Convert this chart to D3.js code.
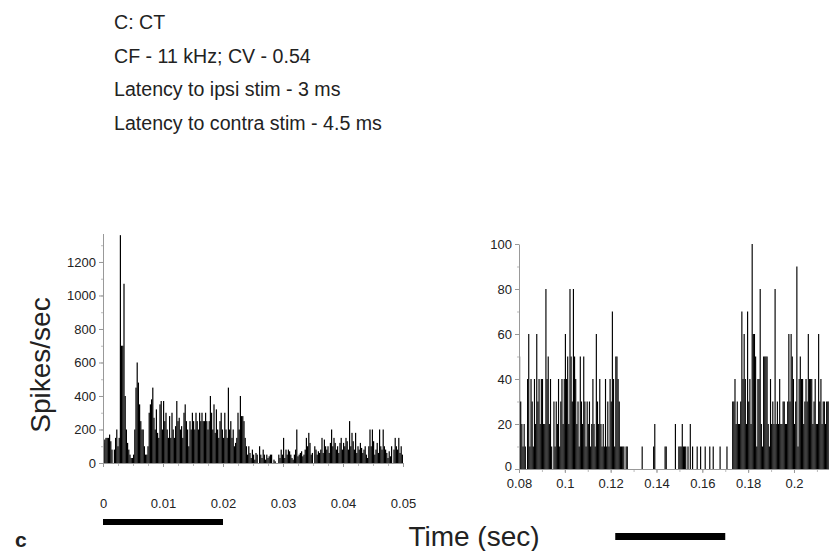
<!DOCTYPE html>
<html>
<head>
<meta charset="utf-8">
<script src="https://cdn.jsdelivr.net/npm/d3@7"></script>
<style>
  body { margin: 0; background: #fff; }
  svg { display: block; font-family: "Liberation Sans", Arial, sans-serif; }
</style>
</head>
<body>
<svg id="chart" width="829" height="551"></svg>
<script>
// header text
const infoLines = [
  "C: CT",
  "CF - 11 kHz; CV - 0.54",
  "Latency to ipsi stim - 3 ms",
  "Latency to contra stim - 4.5 ms"
];

// left PSTH: 0 - 0.05 s, bins of 0.2 ms (spikes/sec)
const leftBin = 0.0002;
const leftRates = [
  120,140,150,150,150,170,130,80,0,80,
  150,200,100,150,1360,700,700,1070,400,200,
  120,80,50,30,30,50,200,450,600,480,
  350,250,200,200,100,50,50,100,300,350,
  380,450,270,200,320,180,150,350,370,200,
  370,250,300,200,150,280,150,300,200,150,
  220,370,250,270,200,220,150,300,350,250,
  200,100,250,200,300,250,200,300,250,200,
  300,250,300,250,250,300,250,200,250,400,
  300,200,350,180,320,200,150,250,300,200,
  150,300,200,150,450,200,250,150,200,100,
  120,150,300,200,400,280,280,250,150,100,
  50,100,60,30,80,50,20,60,50,0,
  100,50,30,80,50,20,50,30,40,50,
  50,0,20,10,0,0,50,30,80,50,
  150,30,80,50,80,70,50,30,20,50,
  80,200,40,50,60,70,40,50,80,150,
  100,180,120,50,60,0,100,80,50,70,
  60,80,150,60,140,100,80,100,60,120,
  200,100,150,120,80,100,60,120,150,80,
  120,100,150,130,80,250,100,180,130,80,
  180,60,100,80,120,90,60,80,100,50,
  30,100,200,100,200,130,50,80,120,60,
  200,100,80,200,100,80,60,30,70,40,
  100,0,80,150,100,80,150,60,100,50
];

// right PSTH: from 0.08 s, bins of 0.5 ms (spikes/sec)
const rightStart = 0.08;
const rightBin = 0.0005;
const rightRates = [
  50,30,20,10,20,10,0,40,60,10,
  40,30,10,40,20,60,30,40,20,40,
  40,20,20,80,40,50,20,40,10,0,
  30,10,30,20,40,10,30,40,20,40,
  60,40,50,20,80,50,30,80,50,40,
  20,30,10,50,30,20,50,30,10,30,
  20,30,10,20,40,20,10,60,30,20,
  40,20,10,20,10,40,10,30,10,40,
  30,70,40,10,50,50,40,30,10,10,
  10,10,0,10,10,0,0,0,0,0,
  0,0,0,0,0,0,0,10,0,0,
  0,0,0,0,0,0,0,10,20,0,
  0,0,0,0,0,0,0,10,10,0,
  0,0,0,0,0,0,20,0,0,10,
  10,10,20,10,10,10,0,10,0,20,
  0,10,0,0,0,10,0,0,10,0,
  0,0,10,0,0,0,10,0,0,10,
  0,0,0,0,0,10,0,0,0,0,
  0,10,0,0,0,0,30,30,40,20,
  30,20,20,30,70,40,60,40,20,70,
  30,40,20,100,60,60,50,10,40,40,
  80,20,10,50,50,50,50,20,10,40,
  20,30,20,80,20,30,20,40,20,20,
  30,30,20,20,30,60,30,60,50,40,
  20,30,90,10,40,50,40,40,20,30,
  40,30,60,40,40,40,20,30,40,20,
  20,60,30,40,20,30,30,20,30,30,30
];

// ticks
const leftTicksX = [0, 0.01, 0.02, 0.03, 0.04, 0.05];
const leftTicksY = [0, 200, 400, 600, 800, 1000, 1200];
const rightTicksX = [0.08, 0.1, 0.12, 0.14, 0.16, 0.18, 0.2];
const rightTicksY = [0, 20, 40, 60, 80, 100];

// stimulus periods (sec)
const leftStim = [0, 0.02];
const rightStim = [0.122, 0.170];

const svg = d3.select("#chart");
const textCol = "#222";
const axisCol = "#999";

// header
svg.append("g").selectAll("text")
  .data(infoLines).enter()
  .append("text")
  .attr("x", 114)
  .attr("y", (d, i) => 29 + i * 33.5)
  .attr("font-size", 19.6)
  .attr("fill", textCol)
  .text(d => d);

// ---- left panel ----
const xL = d3.scaleLinear().domain([0, 0.05]).range([103, 403]);
const yL = d3.scaleLinear().domain([0, 1370]).range([463, 233.5]);

svg.append("g")
  .selectAll("rect")
  .data(leftRates).enter()
  .append("rect")
  .attr("x", (d, i) => xL(i * leftBin))
  .attr("width", xL(leftBin) - xL(0))
  .attr("y", d => yL(d))
  .attr("height", d => yL(0) - yL(d))
  .attr("fill", "#000");

function styleAxis(g) {
  g.select(".domain").attr("stroke", axisCol);
  g.selectAll(".tick line").attr("stroke", axisCol);
  g.selectAll(".tick text").attr("fill", textCol).attr("font-size", 13)
    .attr("font-family", "Liberation Sans, Arial, sans-serif");
}

// y axis left
svg.append("g")
  .attr("transform", "translate(103,0)")
  .call(d3.axisLeft(yL).tickValues(d3.range(0, 1301, 100)).tickSize(2).tickFormat(""))
  .call(g => { g.select(".domain").remove(); g.selectAll(".tick line").attr("stroke", "#bbb"); });
svg.append("g")
  .attr("transform", "translate(103,0)")
  .call(d3.axisLeft(yL).tickValues(leftTicksY).tickSize(4).tickPadding(3).tickSizeOuter(0)
    .tickFormat(d3.format("d")))
  .call(styleAxis);

// x axis left
svg.append("g")
  .attr("transform", "translate(0,463)")
  .call(d3.axisBottom(xL).tickValues(d3.range(0, 0.0501, 0.0025)).tickSize(3).tickFormat(""))
  .call(g => { g.select(".domain").remove(); g.selectAll(".tick line").attr("stroke", "#bbb"); });
svg.append("g")
  .attr("transform", "translate(0,463)")
  .call(d3.axisBottom(xL).tickValues(leftTicksX).tickSize(4).tickPadding(32).tickSizeOuter(0)
    .tickFormat(d => d === 0 ? "0" : d3.format(".2f")(d)))
  .call(styleAxis);

// ---- right panel ----
const xR = d3.scaleLinear().domain([0.08, 0.2]).range([519, 794]);
const yR = d3.scaleLinear().domain([0, 100]).range([469, 244]);

svg.append("g")
  .selectAll("rect")
  .data(rightRates).enter()
  .append("rect")
  .attr("x", (d, i) => xR(rightStart + i * rightBin))
  .attr("width", xR(rightStart + rightBin) - xR(rightStart))
  .attr("y", d => yR(d))
  .attr("height", d => yR(0) - yR(d))
  .attr("fill", "#000");

svg.append("g")
  .attr("transform", "translate(519,0)")
  .call(d3.axisLeft(yR).tickValues(d3.range(0, 101, 10)).tickSize(2).tickFormat(""))
  .call(g => { g.select(".domain").remove(); g.selectAll(".tick line").attr("stroke", "#bbb"); });
svg.append("g")
  .attr("transform", "translate(519,0)")
  .call(d3.axisLeft(yR).tickValues(rightTicksY).tickSize(4).tickPadding(3).tickSizeOuter(0)
    .tickFormat(d3.format("d")))
  .call(g => g.selectAll(".tick text").attr("dy", d => d === 0 ? "0.1em" : "0.32em"))
  .call(styleAxis);

svg.append("g")
  .attr("transform", "translate(0,469)")
  .call(d3.axisBottom(xR).tickValues(d3.range(0.08, 0.216, 0.01)).tickSize(3).tickFormat(""))
  .call(g => { g.select(".domain").remove(); g.selectAll(".tick line").attr("stroke", "#bbb"); });
svg.append("g")
  .attr("transform", "translate(0,469)")
  .call(d3.axisBottom(d3.scaleLinear().domain([0.08, 0.2155]).range([519, 829.5]))
    .tickValues(rightTicksX).tickSize(4).tickPadding(6).tickSizeOuter(0)
    .tickFormat(d => String(+d.toFixed(2))))
  .call(styleAxis);

// stimulus bars
svg.append("rect")
  .attr("x", xL(leftStim[0])).attr("width", xL(leftStim[1]) - xL(leftStim[0]))
  .attr("y", 519).attr("height", 6).attr("fill", "#000");
svg.append("rect")
  .attr("x", xR(rightStim[0])).attr("width", xR(rightStim[1]) - xR(rightStim[0]))
  .attr("y", 533).attr("height", 7).attr("fill", "#000");

// labels
svg.append("text")
  .attr("transform", "translate(50,365) rotate(-90)")
  .attr("text-anchor", "middle")
  .attr("font-size", 28)
  .attr("fill", textCol)
  .text("Spikes/sec");

svg.append("text")
  .attr("x", 474).attr("y", 546)
  .attr("text-anchor", "middle")
  .attr("font-size", 28)
  .attr("fill", textCol)
  .text("Time (sec)");

svg.append("text")
  .attr("x", 15).attr("y", 547)
  .attr("font-size", 21)
  .attr("font-weight", "bold")
  .attr("fill", textCol)
  .text("c");
</script>
</body>
</html>
